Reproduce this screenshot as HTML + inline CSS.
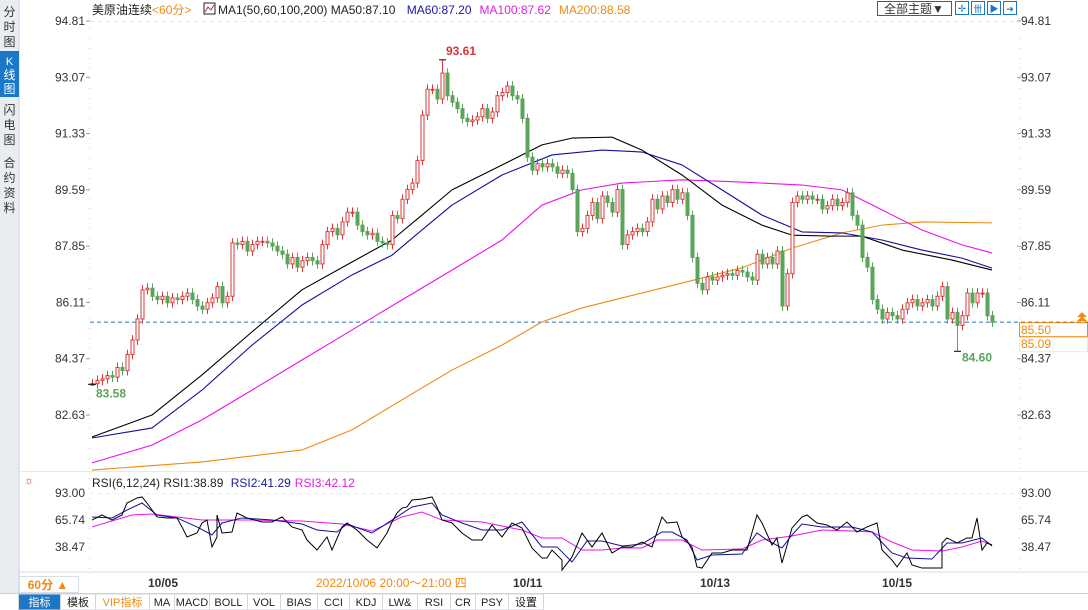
<!DOCTYPE html>
<html><head><meta charset="utf-8">
<style>
html,body{margin:0;padding:0;background:#fff;width:1088px;height:610px;overflow:hidden;font-family:"Liberation Sans","Noto Sans CJK SC",sans-serif;}
svg{display:block}
text{font-family:"Liberation Sans","Noto Sans CJK SC",sans-serif;}
</style></head>
<body>
<svg id="chart" width="1088" height="610" xmlns="http://www.w3.org/2000/svg">
  <g>
    <rect x="0" y="0" width="19" height="593" fill="#e9edf2"/>
    <line x1="19" y1="0" x2="19" y2="593" stroke="#c8d0da"/>
    <g><text x="9.5" y="16" font-size="12" text-anchor="middle" fill="#333">分</text><text x="9.5" y="31" font-size="12" text-anchor="middle" fill="#333">时</text><text x="9.5" y="46" font-size="12" text-anchor="middle" fill="#333">图</text></g>
    <g><rect x="0" y="51" width="19" height="46" fill="#1b78c8"/><text x="9.5" y="65" font-size="11" text-anchor="middle" fill="#fff">K</text><text x="9.5" y="79" font-size="12" text-anchor="middle" fill="#fff">线</text><text x="9.5" y="93" font-size="12" text-anchor="middle" fill="#fff">图</text></g>
    <g><text x="9.5" y="114" font-size="12" text-anchor="middle" fill="#333">闪</text><text x="9.5" y="129" font-size="12" text-anchor="middle" fill="#333">电</text><text x="9.5" y="144" font-size="12" text-anchor="middle" fill="#333">图</text></g>
    <g><text x="9.5" y="167" font-size="12" text-anchor="middle" fill="#333">合</text><text x="9.5" y="182" font-size="12" text-anchor="middle" fill="#333">约</text><text x="9.5" y="197" font-size="12" text-anchor="middle" fill="#333">资</text><text x="9.5" y="212" font-size="12" text-anchor="middle" fill="#333">料</text></g>
  </g>
  <g>
    <text x="92" y="14" font-size="12" fill="#222">美原油连续<tspan fill="#f08a10">&lt;60分&gt;</tspan></text>
    <rect x="204" y="3" width="11" height="11" fill="#fff" stroke="#223"/>
    <polyline points="205,12 208,7 211,10 214,5" fill="none" stroke="#d22" stroke-width="1"/>
    <text x="218" y="14" font-size="12" fill="#222">MA1(50,60,100,200) MA50:87.10 <tspan dx="8" fill="#1a1aa0">MA60:87.20</tspan><tspan dx="8" fill="#e020e0">MA100:87.62</tspan><tspan dx="8" fill="#f08a10">MA200:88.58</tspan></text>
    <g><rect x="877.5" y="1.5" width="74" height="14" fill="#fff" stroke="#556"/><text x="914" y="13" font-size="12" text-anchor="middle" fill="#333">全部主题▼</text></g>
    <g><rect x="955.5" y="1.5" width="13" height="13" fill="#fff" stroke="#1b78c8"/><text x="962" y="12" font-size="10" text-anchor="middle" fill="#1b78c8">✛</text></g>
    <g><rect x="971.5" y="1.5" width="13" height="13" fill="#fff" stroke="#1b78c8"/><text x="978" y="12" font-size="9" text-anchor="middle" fill="#1b78c8">卌</text></g>
    <g><rect x="987.5" y="1.5" width="13" height="13" fill="#fff" stroke="#1b78c8"/><text x="994" y="12" font-size="9" text-anchor="middle" fill="#1b78c8">▶</text></g>
    <g><rect x="1003.5" y="1.5" width="13" height="13" fill="#fff" stroke="#1b78c8"/><text x="1010" y="12" font-size="9" text-anchor="middle" fill="#1b78c8">➜</text></g>
  </g>
  <g id="axes"></g>
  <g id="mas"></g>
  <g id="candles"></g>
  <g id="rsi"></g>
  <g>
    <line x1="19" y1="572" x2="1088" y2="572" stroke="#d8dee6"/>
    <g><rect x="19.5" y="576.5" width="59" height="16" fill="#fff" stroke="#d8dee6"/><text x="48" y="589" font-size="12" text-anchor="middle" fill="#f08a10" font-weight="bold">60分 ▲</text></g>
    <text x="148" y="587" font-size="12" font-weight="bold" fill="#333">10/05</text>
    <rect x="312" y="575" width="168" height="17" fill="#fff"/>
    <text x="316" y="587" font-size="12" fill="#f08a10">2022/10/06 20:00～21:00 四</text>
    <text x="513" y="587" font-size="12" font-weight="bold" fill="#333">10/11</text>
    <text x="700" y="587" font-size="12" font-weight="bold" fill="#333">10/13</text>
    <text x="882" y="587" font-size="12" font-weight="bold" fill="#333">10/15</text>
  </g>
  <g id="toolbar"></g>
</svg>
<script>
const closes=[83.60,83.70,83.75,83.85,83.80,84.10,84.00,84.50,84.95,85.60,86.50,86.55,86.30,86.20,86.30,86.10,86.25,86.20,86.30,86.40,86.20,86.00,85.90,86.10,86.25,86.60,86.10,86.30,87.95,87.90,88.00,87.70,87.90,88.00,88.00,87.95,87.85,87.70,87.60,87.30,87.50,87.20,87.40,87.50,87.40,87.30,87.90,88.30,88.40,88.20,88.60,88.90,88.90,88.50,88.30,88.20,88.25,88.00,87.95,87.90,88.80,88.70,89.30,89.60,89.80,90.50,91.90,92.70,92.70,92.40,93.20,92.50,92.30,92.10,91.80,91.70,91.75,91.85,92.10,91.80,92.00,92.50,92.60,92.80,92.50,92.40,91.80,90.60,90.20,90.40,90.30,90.40,90.30,90.10,90.20,90.10,89.60,88.30,88.40,88.80,89.20,88.70,89.40,89.20,88.90,89.60,87.90,88.20,88.30,88.40,88.30,88.60,89.30,89.00,89.40,89.20,89.60,89.30,89.50,88.80,87.50,86.70,86.50,86.90,86.80,86.90,86.95,87.00,86.95,87.10,87.05,86.90,86.80,87.60,87.30,87.50,87.30,87.70,86.00,87.00,89.20,89.40,89.30,89.40,89.30,89.30,89.00,89.10,89.30,89.10,89.20,89.50,88.80,88.50,87.50,87.20,86.20,85.90,85.60,85.80,85.70,85.60,85.90,86.10,86.20,86.00,86.10,86.20,86.00,86.30,86.60,85.60,85.80,85.40,85.70,86.40,86.10,86.40,86.40,85.70,85.50];
const firstOpen=83.55;
const highPrice=93.61, lowPrice=84.60, startLow=83.58;
const ma50=[81.95,82.63,83.87,85.20,86.50,87.36,88.04,88.81,89.59,90.36,90.98,91.19,91.22,90.82,90.05,89.12,88.50,88.19,88.16,88.16,87.73,87.42,87.11];
const ma60=[81.92,82.23,83.40,84.79,86.03,86.96,87.57,88.35,89.12,90.05,90.67,90.82,90.76,90.36,89.59,88.81,88.29,88.26,88.04,87.73,87.48,87.17];
const ma100=[81.15,81.70,82.48,83.40,84.33,85.26,86.19,87.11,88.04,89.12,89.59,89.80,89.90,89.83,89.74,89.59,88.97,88.35,87.89,87.64];
const ma200=[80.93,81.18,81.55,82.17,83.10,84.02,84.79,85.51,85.94,86.25,86.71,87.18,87.79,88.26,88.50,88.60,88.57];
const ma50Idx=[0,12,22,32,42,52,60,66,72,82,90,96,104,110,118,126,134,140,148,154,162,172,180];
const ma60Idx=[0,12,22,32,42,52,60,66,72,82,92,102,110,118,126,134,142,150,158,166,174,180];
const ma100Idx=[0,12,22,32,42,52,62,72,82,90,98,106,118,130,142,150,158,166,174,180];
const ma200Idx=[0,22,42,52,62,72,82,90,98,106,118,130,140,150,158,166,180];
const rsi1=[65.7,70.8,65.7,70.8,82.9,88.0,89.0,82.9,68.8,67.8,67.8,58.7,48.6,52.6,62.7,65.7,38.5,48.6,70.8,52.6,53.6,72.8,67.8,63.7,63.7,68.8,58.7,55.6,45.5,35.4,48.6,35.4,58.7,62.7,55.6,45.5,37.5,52.6,63.7,72.8,77.8,78.9,85.9,86.9,89.0,78.9,65.7,62.7,52.6,45.5,45.5,60.7,48.6,62.7,57.7,37.5,27.3,27.3,35.4,25.3,15.2,28.4,52.6,38.5,52.6,32.4,38.5,38.5,43.5,38.5,53.6,68.8,62.7,63.7,48.6,38.5,18.3,17.2,32.4,32.4,35.4,35.4,70.8,62.7,40.5,47.6,22.3,57.7,68.8,70.8,62.7,60.7,55.6,63.7,53.6,58.7,62.7,35.4,25.3,18.3,32.4,20.3,17.2,17.2,17.2,42.5,47.6,42.5,47.6,47.6,67.8,35.4,42.5,40.5];
const rsi1Idx=[0,2,4,6,7,9,10,11,13,15,17,18,19,21,22,23,24,25,25,26,28,29,31,34,36,38,40,42,43,45,47,48,50,51,53,55,57,59,60,61,62,63,64,66,68,69,70,72,74,76,78,80,82,84,86,88,90,91,92,94,94,96,98,100,102,104,106,108,110,112,113,114,115,117,118,120,121,122,124,126,128,131,133,134,136,137,138,140,142,143,145,147,149,151,153,155,157,158,160,161,163,164,166,168,170,170,171,173,175,176,177,178,179,180];
const rsi2=[68.8,67.8,75.8,82.9,70.8,67.8,58.7,50.6,62.7,67.8,65.7,61.7,55.6,53.6,61.7,52.6,65.7,78.9,82.9,70.8,62.7,55.6,55.6,63.7,38.5,38.5,23.3,44.5,44.5,39.5,41.5,53.6,53.6,45.5,25.3,30.4,31.4,52.6,45.5,37.5,50.6,61.7,58.7,58.7,53.6,32.4,27.3,26.3,42.5,42.5,47.6,39.5];
const rsi2Idx=[0,4,7,10,13,17,21,24,26,30,36,42,45,49,51,56,60,64,68,70,74,78,82,86,90,93,96,99,102,106,110,114,116,119,121,124,130,133,135,138,140,142,146,152,156,160,163,168,171,174,178,180];
const rsi3=[58.7,70.8,71.8,65.7,65.7,64.7,61.7,54.6,68.8,73.8,65.7,63.7,55.6,47.6,47.6,35.4,35.4,37.5,37.5,45.5,45.5,35.4,36.4,45.5,49.6,55.6,54.6,53.6,43.5,35.4,34.4,38.5,44.5,40.5];
const rsi3Idx=[0,8,12,22,32,42,50,56,62,66,70,78,86,90,94,98,102,106,110,113,118,122,130,134,140,146,152,156,160,164,170,174,178,180];
const priceTicks=[94.81,93.07,91.33,89.59,87.85,86.11,84.37,82.63];
const rsiTicks=[93.00,65.74,38.47];
const toolbarTabs=["指标","模板","VIP指标","MA","MACD","BOLL","VOL","BIAS","CCI","KDJ","LW&","RSI","CR","PSY","设置"];

const NS="http://www.w3.org/2000/svg";
const X0=92, STEP=5;
const xi=i=>X0+i*STEP;
const yP=p=>21+(94.81-p)*32.35;
const yR=r=>493+(93-r)*0.99;
function mk(tag,attrs,parent){const e=document.createElementNS(NS,tag);for(const k in attrs)e.setAttribute(k,attrs[k]);parent.appendChild(e);return e;}

const ax=document.getElementById('axes');


mk('line',{x1:89.5,y1:18,x2:89.5,y2:572,stroke:'#c7ced6','stroke-dasharray':'1,9'},ax);
mk('line',{x1:1019.5,y1:18,x2:1019.5,y2:572,stroke:'#c7ced6','stroke-dasharray':'1,9'},ax);
mk('line',{x1:90,y1:21.5,x2:1019,y2:21.5,stroke:'#e2e6ea','stroke-dasharray':'4,4'},ax);
mk('line',{x1:19,y1:471.5,x2:1088,y2:471.5,stroke:'#e3eaef'},ax);
mk('line',{x1:90,y1:493.5,x2:1019,y2:493.5,stroke:'#ececec','stroke-dasharray':'4,4'},ax);
const sun=mk('text',{x:29,y:484,'font-size':11,'text-anchor':'middle',fill:'#d33'},ax);sun.textContent='☼';


priceTicks.forEach(v=>{
  const y=yP(v);
  const l=mk('text',{x:85,y:y+4,'font-size':12,'text-anchor':'end',fill:'#333'},ax);l.textContent=v.toFixed(2);
  
  
  const r=mk('text',{x:1021,y:y+4,'font-size':12,fill:'#333'},ax);r.textContent=v.toFixed(2);
  
  
  mk('line',{x1:86,y1:y,x2:90,y2:y,stroke:'#999'},ax);
  mk('line',{x1:1017,y1:y,x2:1021,y2:y,stroke:'#999'},ax);
});
rsiTicks.forEach(v=>{
  const y=yR(v);
  const l=mk('text',{x:85,y:y+4,'font-size':12,'text-anchor':'end',fill:'#333'},ax);l.textContent=v.toFixed(2);
  
  
  const r=mk('text',{x:1021,y:y+4,'font-size':12,fill:'#333'},ax);r.textContent=v.toFixed(2);
  
  
});
const last=closes[closes.length-1];
mk('line',{x1:90,y1:yP(last),x2:1088,y2:yP(last),stroke:'#1b78c8','stroke-dasharray':'4,3'},ax);
const tag=mk('g',{},ax);


mk('rect',{x:1019.5,y:yP(last)+0.5,width:68,height:14,fill:'#fff',stroke:'#f08a10'},tag);
const tt=mk('text',{x:1021,y:yP(last)+12,'font-size':12,fill:'#f08a10'},tag);tt.textContent=last.toFixed(2);
mk('rect',{x:1019.5,y:yP(last)+15.5,width:68,height:14,fill:'#fff',stroke:'#e3eaef'},tag);
const t2=mk('text',{x:1021,y:yP(last)+26,'font-size':12,fill:'#f08a10'},tag);t2.textContent='85.09';
mk('path',{d:`M1077 ${yP(last)-1} l5 -5 l5 5 z M1077 ${yP(last)-5} l5 -5 l5 5 z`,fill:'#f08a10'},tag);

const mg=document.getElementById('mas');


function maLine(vals,idx,color,name){
  const p=mk('polyline',{points:vals.map((v,k)=>xi(idx[k])+','+yP(v)).join(' '),fill:'none',stroke:color,'stroke-width':1.1,'stroke-linejoin':'round'},mg);
  
  
}
maLine(ma200,ma200Idx,'#f08a10','ma200-line');
maLine(ma100,ma100Idx,'#ee10ee','ma100-line');
maLine(ma60,ma60Idx,'#10109a','ma60-line');
maLine(ma50,ma50Idx,'#000','ma50-line');

const cg=document.getElementById('candles');


let hiIdx=0,loIdx=0;
closes.forEach((c,i)=>{if(c>closes[hiIdx])hiIdx=i;});
closes.forEach((c,i)=>{if(i>150&&(loIdx===0||c<closes[loIdx]))loIdx=i;});
closes.forEach((c,i)=>{
  const o=i===0?firstOpen:closes[i-1];
  const up=c>=o;
  const col=up?'#d93a3a':'#5ba55b';
  let hi=Math.max(o,c)+0.15, lo=Math.min(o,c)-0.15;
  if(i===hiIdx)hi=highPrice;
  if(i===loIdx)lo=lowPrice;
  if(i===0)lo=startLow;
  const x=xi(i);
  const g=mk('g',{},cg);
  
  
  mk('line',{x1:x+0.5,y1:yP(hi),x2:x+0.5,y2:yP(lo),stroke:col},g);
  const top=yP(Math.max(o,c)),bot=yP(Math.min(o,c));
  mk('rect',{x:x-1,y:top,width:3,height:Math.max(1,bot-top),fill:up?'#fff':col,stroke:col,'stroke-width':1},g);
});
const hx=xi(hiIdx);
mk('line',{x1:hx-3,y1:yP(highPrice),x2:hx+4,y2:yP(highPrice),stroke:'#000'},cg);
const ht=mk('text',{x:hx+4,y:yP(highPrice)-5,'font-size':12,'font-weight':'bold',fill:'#d33'},cg);ht.textContent=highPrice.toFixed(2);


const lx=xi(loIdx);
mk('line',{x1:lx-3,y1:yP(lowPrice),x2:lx+4,y2:yP(lowPrice),stroke:'#000'},cg);
const lt=mk('text',{x:lx+5,y:yP(lowPrice)+10,'font-size':12,'font-weight':'bold',fill:'#5ba55b'},cg);lt.textContent=lowPrice.toFixed(2);


mk('line',{x1:xi(0)-4,y1:yP(startLow),x2:xi(0)+4,y2:yP(startLow),stroke:'#000'},cg);
const st=mk('text',{x:xi(0)+4,y:yP(startLow)+13,'font-size':12,'font-weight':'bold',fill:'#5ba55b'},cg);st.textContent=startLow.toFixed(2);



const rg=document.getElementById('rsi');


const rl=mk('text',{x:92,y:487,'font-size':12,fill:'#222'},rg);
rl.innerHTML='RSI(6,12,24) RSI1:38.89 <tspan dx="4" fill="#1a1aa0">RSI2:41.29</tspan><tspan dx="4" fill="#e020e0">RSI3:42.12</tspan>';


function rLine(vals,idx,color,name){
  const p=mk('polyline',{points:vals.map((v,k)=>xi(idx[k])+','+yR(v)).join(' '),fill:'none',stroke:color,'stroke-width':1},rg);
  
  
}
rLine(rsi3,rsi3Idx,'#ee10ee','rsi3-line');
rLine(rsi2,rsi2Idx,'#10109a','rsi2-line');
rLine(rsi1,rsi1Idx,'#000','rsi1-line');

const tb=document.getElementById('toolbar');
mk('rect',{x:0,y:593,width:1088,height:17,fill:'#fff'},tb);
mk('line',{x1:0,y1:593.5,x2:1088,y2:593.5,stroke:'#c8d0da'},tb);
const widths=[42,35,54,25,35,38,33,37,32,33,35,33,25,33,35];
let tx=18;
toolbarTabs.forEach((t,i)=>{
  const g=mk('g',{},tb);
  
  
  mk('rect',{x:tx+0.5,y:594,width:widths[i],height:16,fill:i===0?'#1b78c8':'#fff',stroke:'#d0d6de'},g);
  const e=mk('text',{x:tx+widths[i]/2+0.5,y:606,'font-size':11,'text-anchor':'middle',fill:i===0?'#fff':(i===2?'#f08a10':'#222'),'font-family':'"Liberation Serif","Noto Sans CJK SC",serif'},g);
  e.textContent=t;
  tx+=widths[i];
});
</script>
</body></html>
